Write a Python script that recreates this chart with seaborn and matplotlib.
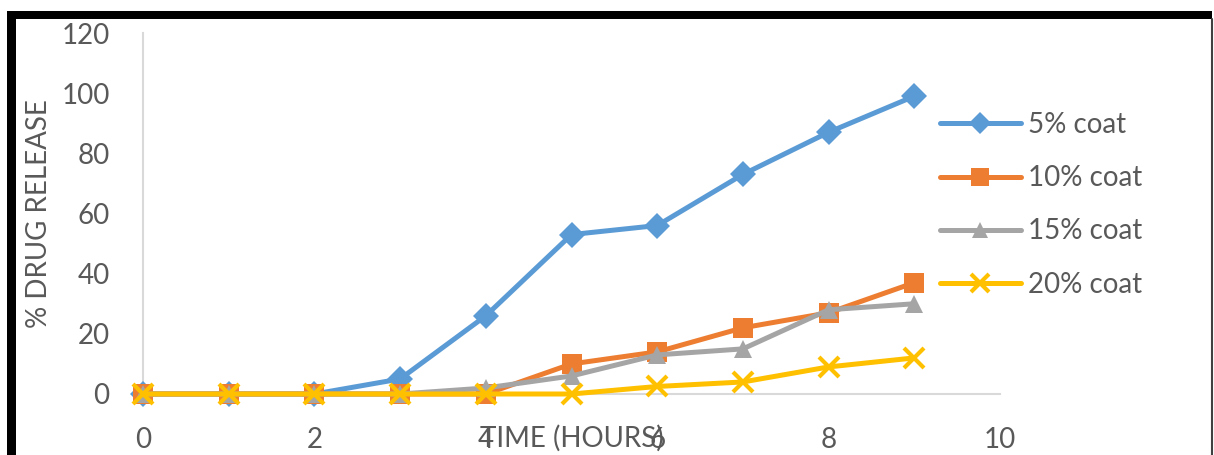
import matplotlib
matplotlib.use('Agg')
import matplotlib.pyplot as plt
import seaborn as sns
from matplotlib.lines import Line2D
from matplotlib.patches import Rectangle

# dados
horas = [0, 1, 2, 3, 4, 5, 6, 7, 8, 9]
coat_5 = [0, 0, 0, 5, 26, 53, 56, 73, 87, 99]
coat_10 = [0, 0, 0, 0, 0, 10, 14, 22, 27, 37]
coat_15 = [0, 0, 0, 0, 2, 6, 13, 15, 28, 30]
coat_20 = [0, 0, 0, 0, 0, 0, 2.5, 4, 9, 12]
rotulos = ["5% coat", "10% coat", "15% coat", "20% coat"]
x_ticks = [0, 2, 4, 6, 8, 10]
y_ticks = [0, 20, 40, 60, 80, 100, 120]

sns.set_theme(style="white")
plt.rcParams['font.family'] = ['Lato', 'DejaVu Sans']
texto = '#595959'

fig = plt.figure(figsize=(12.14, 4.55), dpi=100)
ax = fig.add_axes([143 / 1214, 1 - 394 / 455, 857 / 1214, 361 / 455])

series = [coat_5, coat_10, coat_15, coat_20]
cores = ['#5B9BD5', '#ED7D31', '#A5A5A5', '#FFC000']
marcadores = ['D', 's', '^', 'x']
tamanhos = [13, 15, 13, 15]
for i, (vals, cor, m, ms, nome) in enumerate(zip(series, cores, marcadores, tamanhos, rotulos)):
    kw = dict(markeredgewidth=3, markeredgecolor=cor) if m == 'x' else dict(markeredgewidth=0)
    sns.lineplot(x=horas, y=vals, ax=ax, color=cor, linewidth=3.6, marker=m,
                 markersize=ms, label=nome, clip_on=False, zorder=3 + i, **kw)

ax.set_xlim(0, 10)
ax.set_ylim(0, 120)
ax.set_xticks(x_ticks)
ax.set_yticks(y_ticks)
ax.tick_params(axis='both', length=0, labelsize=20, labelcolor=texto)
ax.tick_params(axis='x', pad=24)
ax.tick_params(axis='y', pad=24)
for lado in ['top', 'right']:
    ax.spines[lado].set_visible(False)
for lado in ['left', 'bottom']:
    ax.spines[lado].set_color('#D9D9D9')
    ax.spines[lado].set_linewidth(1.5)

ax.set_xlabel('TIME (HOURS)', fontsize=20, color=texto)
ax.xaxis.set_label_coords(0.5, -0.085)
ax.set_ylabel('% DRUG RELEASE', fontsize=20, color=texto)
ax.yaxis.set_label_coords(-0.106, 0.5)

leg = ax.legend(loc='upper left', bbox_to_anchor=(940 / 1214, 1 - 112 / 455),
                bbox_transform=fig.transFigure, frameon=False, fontsize=20,
                handlelength=2.9, handletextpad=0.25, labelspacing=0.98,
                borderpad=0, borderaxespad=0, markerscale=0.85)
for t in leg.get_texts():
    t.set_color(texto)

# moldura da imagem
fig.add_artist(Rectangle((7 / 1214, 0), 9 / 1214, 1 - 11 / 455, transform=fig.transFigure,
                         color='black', lw=0))
fig.add_artist(Rectangle((7 / 1214, 1 - 19 / 455), 1205 / 1214, 8 / 455,
                         transform=fig.transFigure, color='black', lw=0))
fig.add_artist(Line2D([1212 / 1214, 1212 / 1214], [0, 1 - 19 / 455],
                      transform=fig.transFigure, color='#404040', lw=1.5))

fig.savefig('out.png', dpi=100)
